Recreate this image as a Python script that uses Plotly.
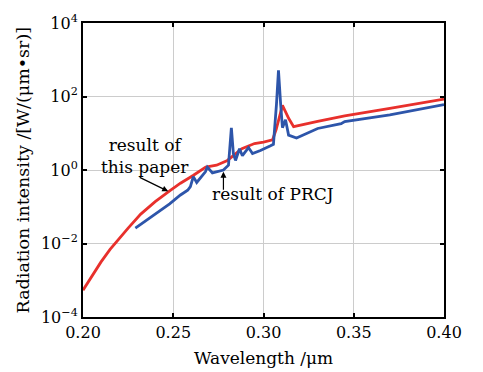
import plotly.graph_objects as go

# Red curve: result of this paper (wavelength um, log10 of intensity)
red_wl = [0.200, 0.205, 0.210, 0.215, 0.220, 0.225, 0.232, 0.240, 0.248, 0.254, 0.261, 0.268,
          0.274, 0.280, 0.288, 0.295, 0.300, 0.305, 0.307, 0.3105, 0.314, 0.3167, 0.330,
          0.345, 0.370, 0.400]
red_log = [-3.27, -2.88, -2.5, -2.16, -1.86, -1.58, -1.2, -0.86, -0.57, -0.36, -0.15, 0.08,
           0.13, 0.26, 0.58, 0.72, 0.76, 0.82, 1.1, 1.76, 1.4, 1.18, 1.32,
           1.47, 1.68, 1.93]

# Blue curve: result of PRCJ
blue_wl = [0.229, 0.239, 0.248, 0.254, 0.258, 0.2595, 0.2611, 0.263, 0.2678, 0.2689, 0.2717,
           0.2778, 0.2806, 0.2822, 0.2833, 0.2845, 0.2867, 0.2883, 0.2917, 0.2939, 0.2983,
           0.3039, 0.3055, 0.3072, 0.3083, 0.3095, 0.3105, 0.3122, 0.3139, 0.3183, 0.3239,
           0.330, 0.343, 0.345, 0.370, 0.400]
blue_log = [-1.58, -1.24, -0.92, -0.68, -0.55, -0.45, -0.18, -0.34, -0.05, 0.08, -0.08,
            0.0, 0.13, 1.15, 0.45, 0.26, 0.58, 0.39, 0.61, 0.45, 0.53,
            0.66, 0.7, 1.8, 2.71, 1.79, 1.15, 1.37, 0.95, 0.87, 1.0,
            1.13, 1.26, 1.32, 1.5, 1.78]

x_ticks = [0.20, 0.25, 0.30, 0.35, 0.40]
x_tick_text = ["0.20", "0.25", "0.30", "0.35", "0.40"]
y_ticks = [1e-4, 1e-2, 1e0, 1e2, 1e4]
y_tick_text = ["10<sup>\u22124</sup>", "10<sup>\u22122</sup>", "10<sup>0</sup>", "10<sup>2</sup>", "10<sup>4</sup>"]

FONT = "DejaVu Serif"

fig = go.Figure()
fig.add_trace(go.Scatter(x=red_wl, y=[10 ** v for v in red_log], mode="lines",
                         line=dict(color="#e8302c", width=2.8), showlegend=False))
fig.add_trace(go.Scatter(x=blue_wl, y=[10 ** v for v in blue_log], mode="lines",
                         line=dict(color="#2d55aa", width=2.8), showlegend=False))

fig.update_layout(
    width=483, height=372,
    margin=dict(l=83, r=39, t=13, b=55),
    paper_bgcolor="white", plot_bgcolor="white",
    font=dict(family=FONT, size=15, color="black"),
    xaxis=dict(range=[0.2, 0.4], tickvals=x_ticks, ticktext=x_tick_text,
               showgrid=True, gridcolor="#cccccc", gridwidth=1,
               showline=True, linecolor="black", linewidth=2, mirror="ticks",
               ticks="inside", ticklen=4, tickwidth=1.5, tickcolor="black",
               zeroline=False, tickfont=dict(family=FONT, size=16)),
    yaxis=dict(type="log", range=[-4, 4], tickvals=y_ticks, ticktext=y_tick_text,
               showgrid=True, gridcolor="#cccccc", gridwidth=1,
               showline=True, linecolor="black", linewidth=2, mirror="ticks",
               ticks="inside", ticklen=4, tickwidth=1.5, tickcolor="black",
               zeroline=False, tickfont=dict(family=FONT, size=16)),
)

# Axis titles
fig.add_annotation(text="Wavelength /\u03bcm", xref="paper", yref="paper", x=0.5, y=-0.141,
                   xanchor="center", yanchor="middle", showarrow=False,
                   font=dict(family=FONT, size=17))
fig.add_annotation(text="Radiation intensity /[W/(\u03bcm\u2022sr)]", xref="paper", yref="paper",
                   x=-0.165, y=0.5, xanchor="center", yanchor="middle", textangle=-90,
                   showarrow=False, font=dict(family=FONT, size=17.5))

# Callouts (log axis: y given as log10 value)
fig.add_annotation(text="result of<br>this paper", x=0.2344, y=0.39, xref="x", yref="y",
                   showarrow=False, font=dict(family=FONT, size=17), align="center",
                   xanchor="center", yanchor="middle")
fig.add_annotation(x=0.2472, y=-0.58, ax=0.2306, ay=-0.18, xref="x", yref="y",
                   axref="x", ayref="y", showarrow=True, arrowhead=2, arrowsize=1,
                   arrowwidth=1.2, arrowcolor="black", text="")
fig.add_annotation(x=0.2778, y=-0.05, ax=0.2778, ay=-0.58, xref="x", yref="y",
                   axref="x", ayref="y", showarrow=True, arrowhead=2, arrowsize=1,
                   arrowwidth=1.2, arrowcolor="black", text="")
fig.add_annotation(text="result of PRCJ", x=0.2706, y=-0.66, xref="x", yref="y",
                   showarrow=False, xanchor="left", yanchor="middle",
                   font=dict(family=FONT, size=17))

fig.write_html("out.html")
